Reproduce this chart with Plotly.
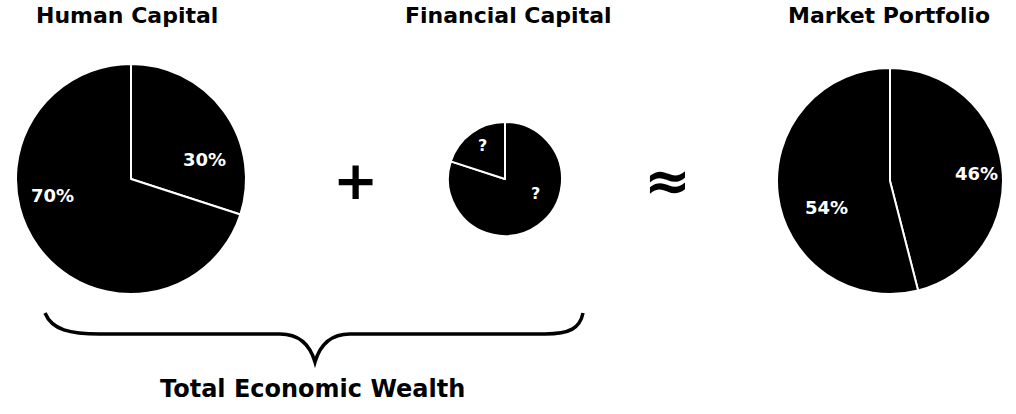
import plotly.graph_objects as go

# pie data
human_labels = ["Human capital share", "Other"]
human_values = [30, 70]
human_text = ["30%", "70%"]

financial_labels = ["Part A", "Part B"]
financial_values = [80, 20]
financial_text = ["?", "?"]

market_labels = ["Part A", "Part B"]
market_values = [46, 54]
market_text = ["46%", "54%"]

titles = ["Human Capital", "Financial Capital", "Market Portfolio"]
total_label = "Total Economic Wealth"

W, H = 1016, 414
FONT = "DejaVu Sans, Liberation Sans, Arial, sans-serif"


def px_domain(cx, cy, r):
    # pixel centre / radius -> paper domain
    return dict(x=[(cx - r) / W, (cx + r) / W],
                y=[(H - cy - r) / H, (H - cy + r) / H])


def make_pie(labels, values, text, dom):
    return go.Pie(
        labels=labels, values=values, text=text,
        textinfo="none",
        marker=dict(colors=["black", "black"], line=dict(color="white", width=2)),
        sort=False, direction="clockwise", rotation=0,
        domain=dom, showlegend=False, hoverinfo="label+value",
    )


def label(txt, x, y, size=18, color="white", weight=True):
    fig.add_annotation(text="<b>%s</b>" % txt if weight else txt,
                       x=x / W, y=1 - y / H, xref="paper", yref="paper",
                       xanchor="center", yanchor="middle", showarrow=False,
                       font=dict(size=size, color=color, family=FONT))


fig = go.Figure()
fig.add_trace(make_pie(human_labels, human_values, human_text, px_domain(131, 179, 115)))
fig.add_trace(make_pie(financial_labels, financial_values, financial_text, px_domain(505, 179, 57)))
fig.add_trace(make_pie(market_labels, market_values, market_text, px_domain(890, 181, 113)))

# slice labels
label(human_text[0], 204, 160)
label(human_text[1], 52, 195)
label(financial_text[0], 535, 193, size=16)
label(financial_text[1], 482, 145, size=16)
label(market_text[0], 976, 173)
label(market_text[1], 826, 207)

# titles above pies
for t, x in zip(titles, [127, 508, 889]):
    label(t, x, 16, size=22, color="black")

# operators
label("+", 355, 181, size=54, color="black")
label("≈", 667, 181, size=56, color="black")

# curly brace under the first two pies
brace = ("M 45 313 C 52 330, 70 334, 100 334 L 280 334 "
         "C 300 334, 310 345, 315 362 C 320 345, 330 334, 350 334 "
         "L 545 334 C 570 334, 580 328, 583 313")
fig.add_shape(type="path", path=brace, xref="x", yref="y",
              line=dict(color="black", width=3.5))
label(total_label, 312, 389, size=24, color="black")

fig.update_layout(
    width=W, height=H,
    margin=dict(l=0, r=0, t=0, b=0),
    paper_bgcolor="white", plot_bgcolor="white",
    xaxis=dict(range=[0, W], visible=False, domain=[0, 1], fixedrange=True),
    yaxis=dict(range=[H, 0], visible=False, domain=[0, 1], fixedrange=True),
)

fig.write_html("out.html", config={"displayModeBar": False},
               post_script="document.body.style.margin='0';")
